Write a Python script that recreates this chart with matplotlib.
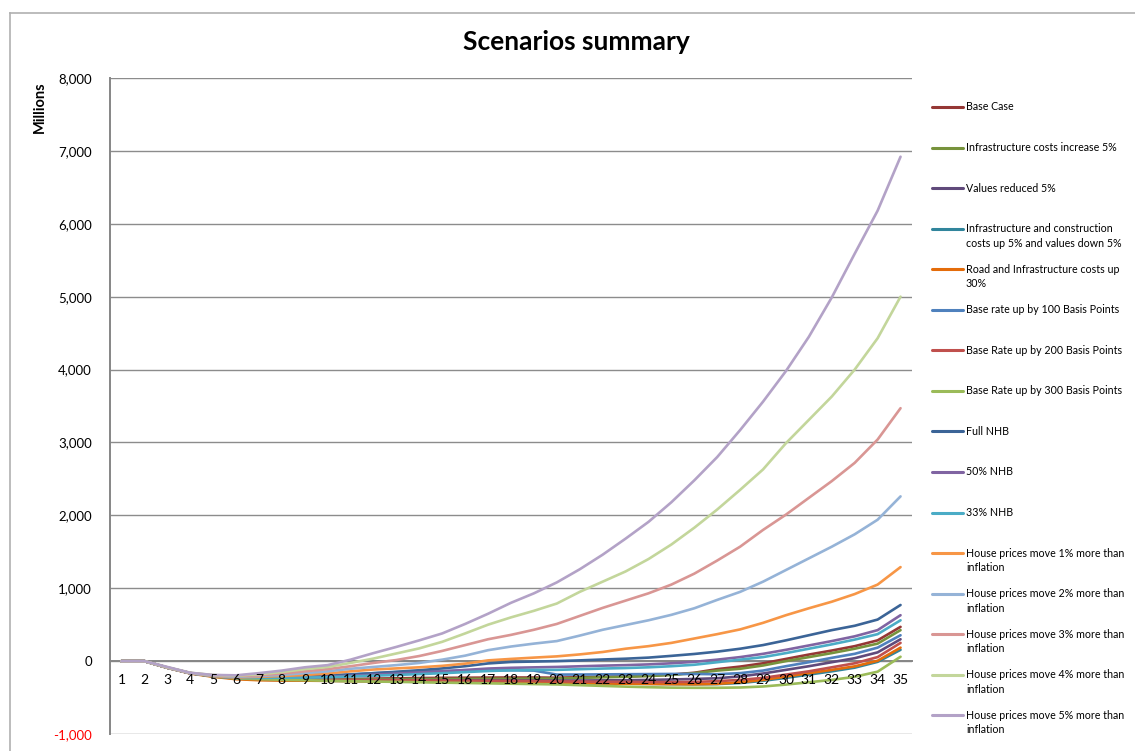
import matplotlib
matplotlib.use('Agg')
import matplotlib.pyplot as plt
from matplotlib.lines import Line2D

plt.rcParams['font.family'] = ['Lato', 'DejaVu Sans']

W, H = 1135, 751

years = list(range(1, 36))

base_case = [0, 0, -90, -165, -205, -230, -240, -245, -248, -250, -245, -240, -236, -232, -230, -228, -226, -225,
             -225, -228, -220, -215, -210, -200, -185, -160, -110, -75, -30, 30, 90, 145, 205, 285, 470]
infra_5 = [0, 0, -90, -165, -205, -232, -245, -250, -252, -254, -252, -250, -248, -246, -245, -244, -243, -242,
           -240, -240, -230, -222, -215, -205, -190, -165, -130, -105, -60, 0, 55, 110, 170, 240, 425]
values_5 = [0, 0, -90, -165, -205, -235, -250, -256, -260, -262, -262, -262, -262, -263, -263, -264, -265, -266,
            -266, -268, -266, -264, -262, -258, -252, -245, -235, -210, -170, -120, -70, -15, 40, 120, 300]
infra_constr = [0, 0, -90, -165, -208, -240, -255, -262, -266, -270, -273, -276, -279, -282, -285, -288, -291,
                -294, -297, -300, -303, -306, -309, -312, -315, -318, -315, -300, -270, -230, -185, -140, -90, -10, 155]
road_30 = [0, 0, -92, -170, -215, -248, -262, -266, -268, -271, -274, -277, -280, -283, -286, -289, -292, -295,
           -298, -301, -304, -307, -310, -313, -316, -318, -312, -290, -258, -212, -165, -120, -72, 5, 185]
br_100 = [0, 0, -90, -165, -205, -228, -222, -214, -205, -195, -180, -165, -152, -142, -136, -130, -126, -125,
          -130, -185, -184, -182, -180, -178, -176, -176, -180, -165, -130, -70, -15, 45, 100, 185, 355]
br_200 = [0, 0, -90, -165, -208, -236, -244, -248, -252, -255, -258, -260, -262, -264, -266, -268, -270, -272,
          -274, -278, -280, -283, -285, -288, -288, -285, -275, -258, -230, -185, -140, -85, -30, 55, 250]
br_300 = [0, 0, -90, -165, -210, -238, -248, -256, -262, -270, -275, -280, -285, -290, -295, -300, -305, -310,
          -315, -320, -330, -340, -350, -358, -364, -366, -366, -362, -348, -322, -290, -258, -215, -145, 60]
full_nhb = [0, 0, -90, -165, -205, -228, -224, -219, -213, -204, -186, -166, -146, -125, -100, -70, -32, -12,
            -6, 0, 10, 22, 33, 48, 72, 98, 130, 170, 220, 285, 355, 425, 485, 570, 770]
nhb_50 = [0, 0, -90, -165, -205, -229, -228, -225, -222, -215, -201, -186, -171, -156, -141, -121, -102, -92,
          -86, -80, -71, -62, -55, -45, -30, -10, 20, 55, 100, 155, 215, 275, 340, 425, 630]
nhb_33 = [0, 0, -90, -165, -205, -230, -230, -228, -226, -222, -211, -200, -190, -178, -166, -151, -136, -126,
          -121, -120, -111, -102, -95, -85, -70, -50, -15, 20, 55, 110, 170, 230, 295, 370, 560]
hp_1 = [0, 0, -90, -165, -205, -225, -215, -205, -190, -170, -140, -115, -100, -85, -65, -35, 10, 30,
        48, 65, 92, 125, 170, 205, 250, 310, 370, 435, 525, 630, 725, 815, 920, 1050, 1290]
hp_2 = [0, 0, -90, -165, -200, -215, -205, -190, -165, -140, -105, -80, -55, -25, 20, 75, 150, 200,
        240, 275, 350, 430, 495, 560, 635, 725, 840, 950, 1090, 1250, 1410, 1570, 1740, 1940, 2260]
hp_3 = [0, 0, -88, -162, -195, -205, -195, -170, -140, -110, -70, -25, 15, 70, 140, 220, 300, 360,
        430, 510, 620, 730, 830, 930, 1050, 1200, 1380, 1570, 1800, 2010, 2240, 2470, 2720, 3040, 3470]
hp_4 = [0, 0, -85, -160, -192, -200, -180, -150, -110, -80, -25, 35, 105, 175, 265, 380, 500, 600,
        690, 790, 950, 1090, 1230, 1400, 1600, 1830, 2080, 2350, 2630, 2990, 3310, 3630, 4000, 4430, 5000]
hp_5 = [0, 0, -80, -160, -190, -195, -165, -130, -85, -55, 20, 110, 195, 285, 380, 510, 650, 800,
        930, 1080, 1260, 1460, 1680, 1910, 2180, 2480, 2800, 3170, 3560, 3980, 4450, 4990, 5590, 6180, 6920]

series = [
    ('Base Case', base_case, '#953735'),
    ('Infrastructure costs increase 5%', infra_5, '#77933C'),
    ('Values reduced 5%', values_5, '#604A7B'),
    ('Infrastructure and construction\ncosts up 5% and values down 5%', infra_constr, '#31859C'),
    ('Road and Infrastructure costs up\n30%', road_30, '#E46C0A'),
    ('Base rate up by 100 Basis Points', br_100, '#4F81BD'),
    ('Base Rate up by 200 Basis Points', br_200, '#C0504D'),
    ('Base Rate up by 300 Basis Points', br_300, '#9BBB59'),
    ('Full NHB', full_nhb, '#3B6497'),
    ('50% NHB', nhb_50, '#8064A2'),
    ('33% NHB', nhb_33, '#4BACC6'),
    ('House prices move 1% more than\ninflation', hp_1, '#F79646'),
    ('House prices move 2% more than\ninflation', hp_2, '#95B3D7'),
    ('House prices move 3% more than\ninflation', hp_3, '#D99694'),
    ('House prices move 4% more than\ninflation', hp_4, '#C3D69B'),
    ('House prices move 5% more than\ninflation', hp_5, '#B3A2C7'),
]

fig = plt.figure(figsize=(W / 100, H / 100), dpi=100)
ax = fig.add_axes([110 / W, (H - 734) / H, 802 / W, (734 - 78) / H])

for name, vals, col in series:
    ax.plot(years, vals, color=col, lw=1.9, solid_capstyle='round', zorder=2)

ax.set_xlim(0.5, 35.5)
ax.set_ylim(-1000, 8000)
ax.set_yticks(range(-1000, 8001, 1000))
ax.set_yticklabels(['{:,}'.format(v) for v in range(-1000, 8001, 1000)], fontsize=9.5)
ax.get_yticklabels()[0].set_color('red')
ax.set_xticks(years)
ax.set_xticklabels([str(y) for y in years], fontsize=9.5)
ax.grid(axis='y', color='#8C8C8C', lw=1)
ax.set_axisbelow(True)
ax.xaxis.set_zorder(3)  # category labels sit on top of the lines
ax.tick_params(axis='y', length=0, pad=13)
ax.tick_params(axis='x', length=0, pad=9)
for s in ['top', 'right']:
    ax.spines[s].set_visible(False)
ax.spines['bottom'].set_position(('data', 0))
for s in ['bottom', 'left']:
    ax.spines[s].set_color('#868686')
    ax.spines[s].set_linewidth(1.4)
    ax.spines[s].set_zorder(1.5)

fig.text(576 / W, 1 - 42 / H, 'Scenarios summary', fontsize=19, fontweight='bold',
         ha='center', va='center')
fig.text(40 / W, 1 - 107 / H, 'Millions', fontsize=10.5, fontweight='bold', rotation=90,
         ha='center', va='center')

# chart border
fig.add_artist(Line2D([10 / W, 10 / W], [0, 1 - 13 / H], color='#B0B0B0', lw=1.2))
fig.add_artist(Line2D([10 / W, 1], [1 - 13 / H, 1 - 13 / H], color='#B0B0B0', lw=1.2))

# legend, one row per series
lax = fig.add_axes([925 / W, 0, 210 / W, 1])
lax.set_xlim(0, 210)
lax.set_ylim(H, 0)
lax.axis('off')
y0, step = 107, 40.55
for i, (name, vals, col) in enumerate(series):
    y = y0 + i * step
    lax.plot([7, 38], [y, y], color=col, lw=2.2, solid_capstyle='round')
    for k, line in enumerate(name.split('\n')):
        lax.text(41, y + k * 14.5, line, fontsize=7.7, va='center', ha='left')

fig.savefig('out.png', dpi=100)
